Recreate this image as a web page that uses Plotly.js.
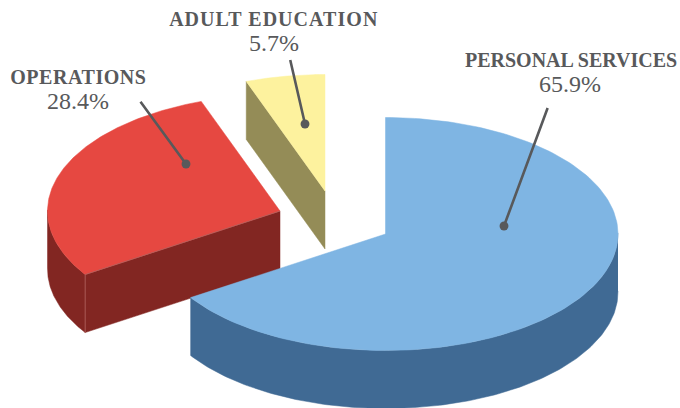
<!DOCTYPE html>
<html>
<head>
<meta charset="utf-8">
<script src="https://cdn.plot.ly/plotly-3.0.1.min.js"></script>
<style>
html,body{margin:0;padding:0;background:#fff}
#chart{width:680px;height:408px}
.annotation[data-index="2"] text{letter-spacing:.55px}
.annotation[data-index="4"] text{letter-spacing:1.05px}
</style>
</head>
<body>
<div id="chart"></div>
<script>
// Data
const categories = ["PERSONAL SERVICES", "OPERATIONS", "ADULT EDUCATION"];
const shares = [65.9, 28.4, 5.7];
const shareLabels = ["65.9%", "28.4%", "5.7%"];

// Styles
const topColors = ["#7fb5e3", "#e64841", "#fdf29e"];
const wallColors = ["#406a94", "#822622", "#948c57"];
const centers = [[385.5, 234], [280, 211], [325, 191]];
const nameAt = [[571, 60], [78.5, 77], [274, 19]];
const valueAt = [[570, 84], [78, 101], [274, 43]];
const leaderFrom = [[548, 107], [140, 101], [290, 59]];
const leaderTo = [[504, 226], [186, 164], [305, 124]];
const rx = 232.5, ry = 116.5, depth = 58;
const warp2 = -0.815, warp1 = -0.524;
const inkColor = "#58595b";

function rim(c, deg, drop) {
  const r = deg * Math.PI / 180;
  const t = (deg + warp2 * Math.sin(2 * r) + warp1 * Math.sin(r)) * Math.PI / 180;
  return [c[0] + rx * Math.sin(t), c[1] - ry * Math.cos(t) + (drop || 0)];
}
function arc(c, a, b, drop) {
  const pts = [], n = 160;
  for (let i = 0; i <= n; i++) pts.push(rim(c, a + (b - a) * i / n, drop));
  return pts;
}
function poly(pts, color) {
  return {
    type: "scatter", mode: "lines", fill: "toself", fillcolor: color,
    x: pts.map(p => p[0]), y: pts.map(p => p[1]),
    line: { width: 0.5, color: color }, hoverinfo: "skip", showlegend: false
  };
}

// Slice angles from the shares, clockwise from 12 o'clock
let run = 0;
const spans = shares.map(v => { const a = run; run += v * 3.6; return [a, run]; });

const traces = [];
// Adult education: the cut face and the top
{
  const c = centers[2], s = spans[2];
  const out = rim(c, s[0]);
  traces.push(poly([out, c, [c[0], c[1] + depth], [out[0], out[1] + depth], out], wallColors[2]));
  traces.push(poly([c].concat(arc(c, s[0], s[1])).concat([c]), topColors[2]));
}
// Operations: outer wall, cut face, top, light seam
{
  const c = centers[1], s = spans[1];
  const out = rim(c, s[0]);
  traces.push(poly(arc(c, s[0], 270).concat(arc(c, 270, s[0], depth)), wallColors[1]));
  traces.push(poly([out, c, [c[0], c[1] + depth], [out[0], out[1] + depth], out], wallColors[1]));
  traces.push(poly([c].concat(arc(c, s[0], s[1])).concat([c]), topColors[1]));
  traces.push({
    type: "scatter", mode: "lines",
    x: [c[0], out[0], out[0]], y: [c[1], out[1], out[1] + depth],
    line: { width: 0.8, color: "#b0605c" }, hoverinfo: "skip", showlegend: false
  });
}
// Personal services: outer wall and top
{
  const c = centers[0], s = spans[0];
  traces.push(poly(arc(c, 90, s[1]).concat(arc(c, s[1], 90, depth)), wallColors[0]));
  traces.push(poly([c].concat(arc(c, s[0], s[1])).concat([c]), topColors[0]));
}

const annotations = [];
categories.forEach((name, i) => {
  annotations.push({
    x: nameAt[i][0], y: nameAt[i][1], xref: "x", yref: "y", text: name, showarrow: false,
    xanchor: "center", yanchor: "middle",
    font: { family: "Liberation Serif", size: 20, weight: 700, color: inkColor }
  });
  annotations.push({
    x: valueAt[i][0], y: valueAt[i][1], xref: "x", yref: "y", text: shareLabels[i], showarrow: false,
    xanchor: "center", yanchor: "middle",
    font: { family: "Liberation Serif", size: 24, color: inkColor }
  });
});
leaderTo.forEach((p, i) => {
  annotations.push({
    x: p[0], y: p[1], xref: "x", yref: "y", axref: "x", ayref: "y",
    ax: leaderFrom[i][0], ay: leaderFrom[i][1], text: " ", showarrow: true,
    font: { size: 1 }, borderpad: 0,
    arrowhead: 6, arrowsize: 0.85, arrowwidth: 2.6, arrowcolor: inkColor, standoff: 0
  });
});

Plotly.newPlot("chart", traces, {
  width: 680, height: 408,
  margin: { l: 0, r: 0, t: 0, b: 0 },
  paper_bgcolor: "#fff", plot_bgcolor: "#fff", showlegend: false,
  xaxis: { range: [0, 680], visible: false, fixedrange: true },
  yaxis: { range: [408, 0], visible: false, fixedrange: true },
  annotations: annotations
}, { displayModeBar: false, staticPlot: true });
</script>
</body>
</html>
